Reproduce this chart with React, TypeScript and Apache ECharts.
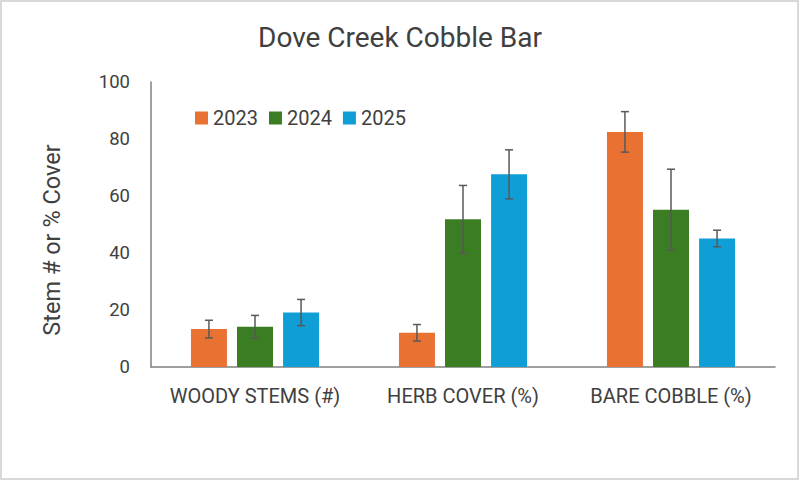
import React, { useEffect, useRef } from "react";
import * as echarts from "echarts";

const categories = ["WOODY STEMS (#)", "HERB COVER (%)", "BARE COBBLE (%)"];
const years = ["2023", "2024", "2025"];
const values2023 = [13.3, 12.0, 82.5];
const values2024 = [14.1, 51.8, 55.2];
const values2025 = [19.1, 67.6, 45.1];
const err2023 = [3.1, 2.9, 7.1];
const err2024 = [4.0, 11.9, 14.2];
const err2025 = [4.6, 8.6, 2.9];
const colors = ["#E97132", "#3B7D23", "#0F9ED5"];
const yTicks = { min: 0, max: 100, interval: 20 };
const yName = "Stem # or % Cover";
const titleText = "Dove Creek Cobble Bar";

const BAR_W = 0.173;
const BAR_GAP = 0.28;
const FONT = "Roboto, 'Noto Sans', sans-serif";
const TEXT = "#404040";

export default function App() {
  const ref = useRef<HTMLDivElement>(null);
  useEffect(() => {
    if (!ref.current) return;
    const chart = echarts.init(ref.current, null, { renderer: "svg" });
    const vals = [values2023, values2024, values2025];
    const errs = [err2023, err2024, err2025];

    const barSeries = years.map((y, i) => ({
      name: y,
      type: "bar",
      data: vals[i],
      barWidth: (BAR_W * 100).toFixed(1) + "%",
      barGap: BAR_GAP * 100 + "%",
      itemStyle: { color: colors[i] },
      z: 2,
    }));

    const errSeries = years.map((y, i) => ({
      type: "custom",
      name: "err" + y,
      z: 5,
      data: vals[i].map((v, k) => [k, v - errs[i][k], v + errs[i][k]]),
      renderItem: (params: any, api: any) => {
        const k = api.value(0);
        const lo = api.coord([k, api.value(1)]);
        const hi = api.coord([k, api.value(2)]);
        const band = api.size([1, 0])[0];
        const bw = band * BAR_W;
        const x = lo[0] + (i - 1) * bw * (1 + BAR_GAP);
        const cap = 4;
        const style = { stroke: "#595959", lineWidth: 1.5 };
        return {
          type: "group",
          children: [
            { type: "line", shape: { x1: x, y1: lo[1], x2: x, y2: hi[1] }, style },
            { type: "line", shape: { x1: x - cap, y1: lo[1], x2: x + cap, y2: lo[1] }, style },
            { type: "line", shape: { x1: x - cap, y1: hi[1], x2: x + cap, y2: hi[1] }, style },
          ],
        };
      },
      silent: true,
      tooltip: { show: false },
    }));

    chart.setOption({
      animation: false,
      backgroundColor: "#ffffff",
      title: {
        text: titleText,
        left: "center",
        top: 18,
        textStyle: { fontFamily: FONT, fontSize: 28, fontWeight: "normal", color: TEXT },
      },
      legend: {
        data: years,
        left: 190,
        top: 103,
        itemWidth: 13,
        itemHeight: 13,
        itemGap: 11,
        icon: "rect",
        textStyle: { fontFamily: FONT, fontSize: 20, color: TEXT },
      },
      grid: { left: 151, right: 25, top: 82, bottom: 114 },
      xAxis: {
        type: "category",
        data: categories,
        axisLine: { show: true, lineStyle: { color: "#808080", width: 1.5 } },
        axisTick: { show: false },
        axisLabel: {
          fontFamily: FONT,
          fontSize: 20,
          color: TEXT,
          margin: 19,
          interval: 0,
          hideOverlap: false,
        },
      },
      yAxis: {
        type: "value",
        min: yTicks.min,
        max: yTicks.max,
        interval: yTicks.interval,
        axisLine: { show: true, lineStyle: { color: "#808080", width: 1.5 } },
        axisTick: { show: false },
        splitLine: { show: false },
        axisLabel: { fontFamily: FONT, fontSize: 18.5, color: TEXT, margin: 21 },
      },
      graphic: [
        {
          type: "rect",
          shape: { x: 1, y: 1, width: 797, height: 478 },
          style: { fill: "none", stroke: "#d9d9d9", lineWidth: 2 },
          silent: true,
        },
        {
          type: "text",
          x: 52,
          y: 240,
          rotation: Math.PI / 2,
          style: {
            text: yName,
            fontFamily: FONT,
            fontSize: 23.5,
            fill: TEXT,
            align: "center",
            verticalAlign: "middle",
          },
          silent: true,
        },
      ],
      series: [...barSeries, ...errSeries],
    });
    return () => chart.dispose();
  }, []);
  return (
    <div
      ref={ref}
      style={{ position: "fixed", left: 0, top: 0, width: 800, height: 481 }}
    />
  );
}
